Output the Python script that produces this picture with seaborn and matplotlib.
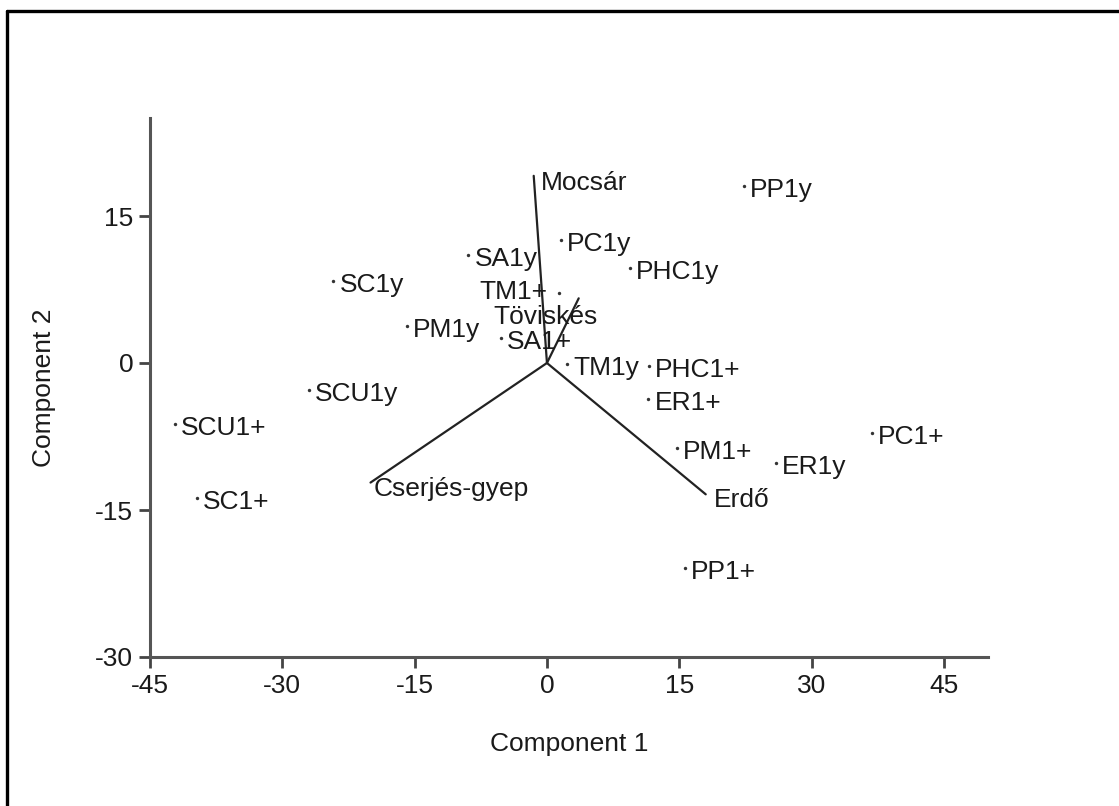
import matplotlib
matplotlib.use("Agg")
import matplotlib.pyplot as plt
from matplotlib import font_manager
import seaborn as sns
import pandas as pd
from matplotlib.lines import Line2D

# ---- data ----
samples = ["PP1y", "PC1y", "PHC1y", "SA1y", "SC1y", "TM1+", "PM1y", "SA1+", "TM1y",
           "PHC1+", "ER1+", "SCU1y", "SCU1+", "PM1+", "ER1y", "PC1+", "SC1+", "PP1+"]
comp1 = [22.3, 1.6, 9.4, -8.9, -24.2, 1.4, -15.9, -5.2, 2.3,
         11.6, 11.5, -27.0, -42.2, 14.7, 26.0, 36.8, -39.7, 15.6]
comp2 = [18.1, 12.6, 9.7, 11.0, 8.4, 7.1, 3.8, 2.6, -0.1,
         -0.3, -3.7, -2.8, -6.2, -8.7, -10.2, -7.1, -13.8, -20.9]

variables = ["Mocsár", "Töviskés", "Cserjés-gyep", "Erdő"]
load1 = [-1.5, 3.6, -20.0, 18.0]
load2 = [19.1, 6.6, -12.2, -13.4]

x_ticks = [-45, -30, -15, 0, 15, 30, 45]
y_ticks = [-30, -15, 0, 15]

# ---- label placement (styles, pixel offsets) ----
sample_offsets = {"TM1+": (-12, 1, "right")}
default_offset = (6, -4, "left")
var_offsets = {"Mocsár": (7, -7, "left"), "Töviskés": (-85, -19, "left"),
               "Cserjés-gyep": (3, -6, "left"), "Erdő": (8, -6, "left")}

sns.set_theme(style="white")
names = {f.name for f in font_manager.fontManager.ttflist}
fam = "Liberation Sans Narrow" if "Liberation Sans Narrow" in names else "Liberation Sans"
plt.rcParams["font.family"] = [fam, "DejaVu Sans"]

fig = plt.figure(figsize=(11.19, 8.06), dpi=100)
ax = fig.add_axes([150 / 1119, 1 - 657 / 806, 838 / 1119, 539 / 806])

df = pd.DataFrame({"Component 1": comp1, "Component 2": comp2, "label": samples})
sns.scatterplot(data=df, x="Component 1", y="Component 2", ax=ax,
                color="#333333", s=6, marker="o", linewidth=0, zorder=3)

for name, x, y in zip(samples, comp1, comp2):
    dx, dy, ha = sample_offsets.get(name, default_offset)
    ax.annotate(name, (x, y), xytext=(dx, dy), textcoords="offset pixels",
                ha=ha, va="center", fontsize=19, color="#1a1a1a")

for name, x, y in zip(variables, load1, load2):
    ax.add_line(Line2D([0, x], [0, y], color="#222222", lw=1.6, zorder=2))
    dx, dy, ha = var_offsets[name]
    ax.annotate(name, (x, y), xytext=(dx, dy), textcoords="offset pixels",
                ha=ha, va="center", fontsize=19, color="#1a1a1a")

ax.set_xlim(-45, 50)
ax.set_ylim(-30, 25)
ax.set_xticks(x_ticks)
ax.set_yticks(y_ticks)
ax.set_xticklabels([str(t) for t in x_ticks])
ax.set_yticklabels([str(t) for t in y_ticks])
ax.set_xlabel("Component 1", fontsize=19, color="#1a1a1a", labelpad=25)
ax.set_ylabel("Component 2", fontsize=19, color="#1a1a1a", labelpad=28)
ax.tick_params(axis="both", which="major", direction="out", length=8, width=2,
               color="#444444", labelsize=19, labelcolor="#1a1a1a", pad=4,
               bottom=True, left=True)
for side in ["top", "right"]:
    ax.spines[side].set_visible(False)
for side in ["left", "bottom"]:
    ax.spines[side].set_color("#555555")
    ax.spines[side].set_linewidth(2.2)

# outer frame (top and left edges only)
fig.add_artist(Line2D([7 / 1119, 1], [1 - 11 / 806, 1 - 11 / 806],
                      transform=fig.transFigure, color="black", lw=2.4))
fig.add_artist(Line2D([7 / 1119, 7 / 1119], [0, 1 - 11 / 806],
                      transform=fig.transFigure, color="black", lw=2.4))

fig.savefig("out.png", dpi=100)
